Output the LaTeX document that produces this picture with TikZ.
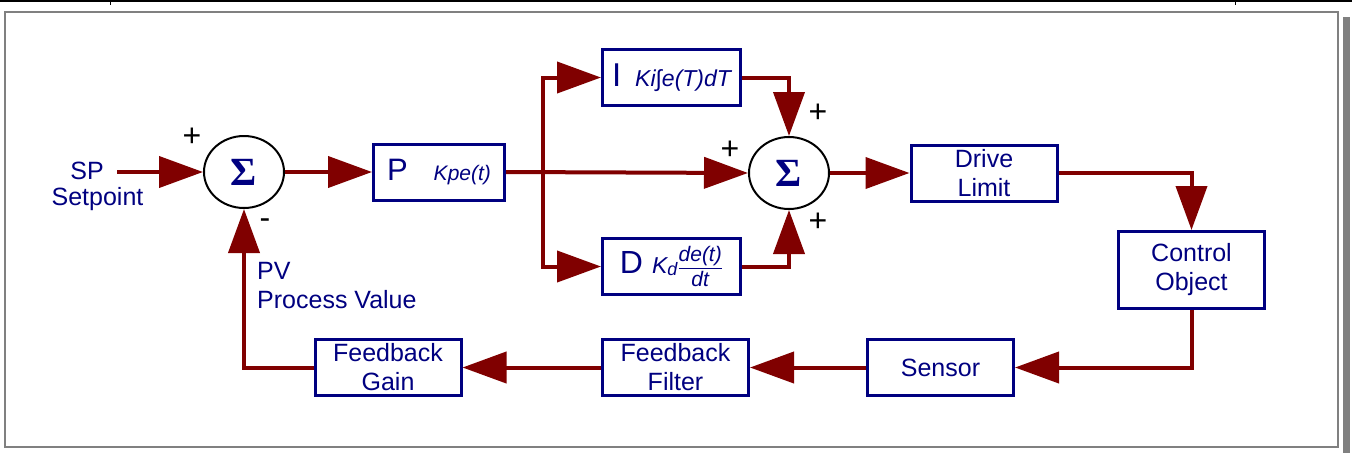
\documentclass[tikz,border=0pt]{standalone}
\usepackage{fontspec}
\setmainfont{Liberation Sans}
\newfontfamily\sigmafont{Liberation Serif}
\usetikzlibrary{arrows.meta, positioning, shapes.geometric}
\definecolor{wire}{HTML}{800000}
\definecolor{ink}{HTML}{000080}
\definecolor{frame}{HTML}{808080}

\begin{document}
\begin{tikzpicture}[
    x = 1pt, y = -1pt,
    > = {Triangle[length=44pt, width=31pt]},
    block/.style   = {draw=ink, line width=3pt, text=ink, align=center, inner sep=0pt,
                      font=\fontsize{25}{29}\selectfont, minimum height=56pt, minimum width=146pt},
    termbox/.style = {block, minimum width=138pt},
    sumnode/.style = {ellipse, draw=black, line width=2pt, text=ink, inner sep=0pt,
                      minimum width=80pt, minimum height=72pt, font=\sigmafont\bfseries\fontsize{40}{40}\selectfont},
    flow/.style    = {->, line width=4pt, draw=wire},
    sign/.style    = {font=\fontsize{32}{32}\selectfont, inner sep=0pt},
    tag/.style     = {text=ink, font=\fontsize{25}{29}\selectfont, inner sep=0pt},
]
\useasboundingbox (0,0) rectangle (1352,453);

% --------------------------------------------- frame ----------------------------------------------
\draw[black, line width=2.5pt] (0,1) -- (1352,1);
\draw[black, line width=1pt] (110,0) -- (110,5);
\draw[black, line width=1pt] (1235,0) -- (1235,5);
\draw[frame, line width=2pt] (5,12) rectangle (1338,447);
\fill[frame] (1343,17) rectangle (1350,453);

% --------------------------------------------- forward --------------------------------------------
\node[sumnode] (sum1) at (244,172) {Σ};
\node[block, minimum width=131pt, right=87pt of sum1] (prop)
    {{\fontsize{31}{31}\selectfont P}\hspace{26pt}{\fontsize{21}{21}\selectfont\itshape Kpe(t)}};
\node[sumnode] (sum2) at (789,173) {Σ};
\node[block, right=79.5pt of sum2] (drive) {Drive\\Limit};

% --------------------------------------------- branches -------------------------------------------
\coordinate (br) at (543,172);
\node[termbox] (integ) at (671.5,77.5)
    {{\fontsize{33}{33}\selectfont I}\hspace{14pt}{\fontsize{23}{23}\selectfont\itshape Ki∫e(T)dT}};
\node[termbox] (deriv) at (671.5,266.5)
    {{\fontsize{32}{32}\selectfont D}\hspace{9pt}{\fontsize{23}{23}\selectfont\itshape K\raisebox{-2pt}{\fontsize{18}{18}\selectfont d}}%
     {\fontsize{21}{21}\selectfont $\mbox{\itshape de(t)}\above1.5pt\mbox{\itshape dt}$}};

% --------------------------------------------- feedback -------------------------------------------
\node[block, minimum height=77pt] (plant) at (1191.5,270) {Control\\Object};
\node[block] (sensor) at (940.5,367.5) {Sensor};
\node[block, left=116pt of sensor] (filter) {Feedback\\Filter};
\node[block, left=138.5pt of filter] (fbgain) {Feedback\\Gain};

% --------------------------------------------- labels ---------------------------------------------
\node[tag] (sp) at (87,171) {SP};
\node[tag] (setp) at (97.5,199) {Setpoint};
\coordinate (spin) at (117,172);
\node[tag, anchor=west, align=left] (pv) at (257,286) {PV\\Process Value};
\node[sign] (p1) at (192,137) {+};
\node[sign] (m1) at (265,224) {-};
\node[sign] (p2) at (730,150) {+};
\node[sign] (p3) at (818,113) {+};
\node[sign] (p4) at (818,222) {+};

% --------------------------------------------- arrows ---------------------------------------------
\draw[flow] (spin) -- (sum1.west);
\draw[flow] (sum1) -- (prop);
\draw[flow] (prop.east) -- (sum2.west);
\draw[flow] (br) |- (integ.west);
\draw[flow] (br) |- (deriv.west);
\draw[flow] (integ.east) -| (sum2.north);
\draw[flow] (deriv.east) -| (sum2.south);
\draw[flow] (sum2) -- (drive);
\draw[flow] (drive.east) -| (plant.north);
\draw[flow] (plant.south) |- (sensor.east);
\draw[flow] (sensor) -- (filter);
\draw[flow] (filter) -- (fbgain);
\draw[flow] (fbgain.west) -| (sum1.south);

\end{tikzpicture}
\end{document}
